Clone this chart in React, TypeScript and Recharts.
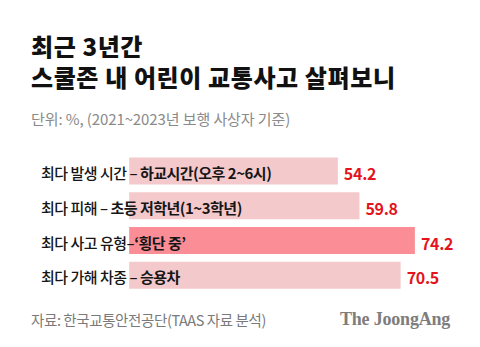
import { Bar, BarChart, Cell, LabelList, XAxis, YAxis } from "recharts";

const titleLines = ["최근 3년간", "스쿨존 내 어린이 교통사고 살펴보니"];
const prefixes = ["최다 발생 시간 – ", "최다 피해 – ", "최다 사고 유형–", "최다 가해 차종 – "];
const highlights = ["하교시간(오후 2~6시)", "초등 저학년(1~3학년)", "‘횡단 중’", "승용차"];
const values = [54.2, 59.8, 74.2, 70.5];
const highlighted = [false, false, true, false];

const rows = values.map((value, i) => ({
  name: prefixes[i] + highlights[i],
  value,
}));

const font = "'Noto Sans CJK KR', 'Noto Sans', sans-serif";

function CategoryLabel(props: any) {
  const { y, height, index } = props;
  return (
    <text
      x={41}
      y={y + height / 2 + 1}
      dominantBaseline="central"
      fontFamily={font}
      fontSize={15}
      fontWeight={500}
      letterSpacing={-0.5}
      fill="#161616"
    >
      <tspan>{prefixes[index]}</tspan>
      <tspan fontWeight={700}>{highlights[index]}</tspan>
    </text>
  );
}

function ValueLabel(props: any) {
  const { x, y, width, height, value } = props;
  return (
    <text
      x={x + width + 6}
      y={y + height / 2 + 2}
      dominantBaseline="central"
      fontFamily={font}
      fontSize={16}
      fontWeight={700}
      letterSpacing={-0.3}
      fill="#e3141c"
    >
      {value}
    </text>
  );
}

export default function App() {
  return (
    <div
      style={{
        position: "absolute",
        left: 0,
        top: 0,
        width: 480,
        height: 347,
        background: "#fff",
        fontFamily: font,
      }}
    >
      {titleLines.map((line, i) => (
        <div
          key={line}
          style={{
            position: "absolute",
            left: 31,
            top: 31.5 + i * 31,
            fontSize: 24,
            fontWeight: 900,
            lineHeight: "28px",
            color: "#111",
            letterSpacing: 0.6,
            whiteSpace: "nowrap",
          }}
        >
          {line}
        </div>
      ))}
      <div
        style={{
          position: "absolute",
          left: 31,
          top: 109,
          fontSize: 15,
          lineHeight: "20px",
          color: "#8a8a8a",
          letterSpacing: -0.1,
        }}
      >
        단위: %, (2021~2023년 보행 사상자 기준)
      </div>

      <BarChart
        width={480}
        height={347}
        data={rows}
        layout="vertical"
        margin={{ top: 153.5, right: 22, bottom: 54.5, left: 31 }}
        barCategoryGap={4}
      >
        <XAxis type="number" hide domain={[-25.5, 85.4]} />
        <YAxis type="category" dataKey="name" hide />
        <Bar dataKey="value" isAnimationActive={false}>
          {rows.map((row, i) => (
            <Cell key={row.name} fill={highlighted[i] ? "#fa8d96" : "#f3c9cc"} />
          ))}
          <LabelList dataKey="value" content={<CategoryLabel />} />
          <LabelList dataKey="value" content={<ValueLabel />} />
        </Bar>
      </BarChart>

      <div
        style={{
          position: "absolute",
          left: 31,
          top: 310,
          fontSize: 14.5,
          lineHeight: "20px",
          color: "#7a7a7a",
          letterSpacing: -0.4,
        }}
      >
        자료: 한국교통안전공단(TAAS 자료 분석)
      </div>
      <div
        style={{
          position: "absolute",
          left: 340,
          top: 308,
          fontSize: 18,
          lineHeight: "22px",
          fontWeight: 700,
          fontFamily: "'Liberation Serif', 'DejaVu Serif', serif",
          color: "#7d7d7d",
          letterSpacing: -0.2,
        }}
      >
        The JoongAng
      </div>
    </div>
  );
}
